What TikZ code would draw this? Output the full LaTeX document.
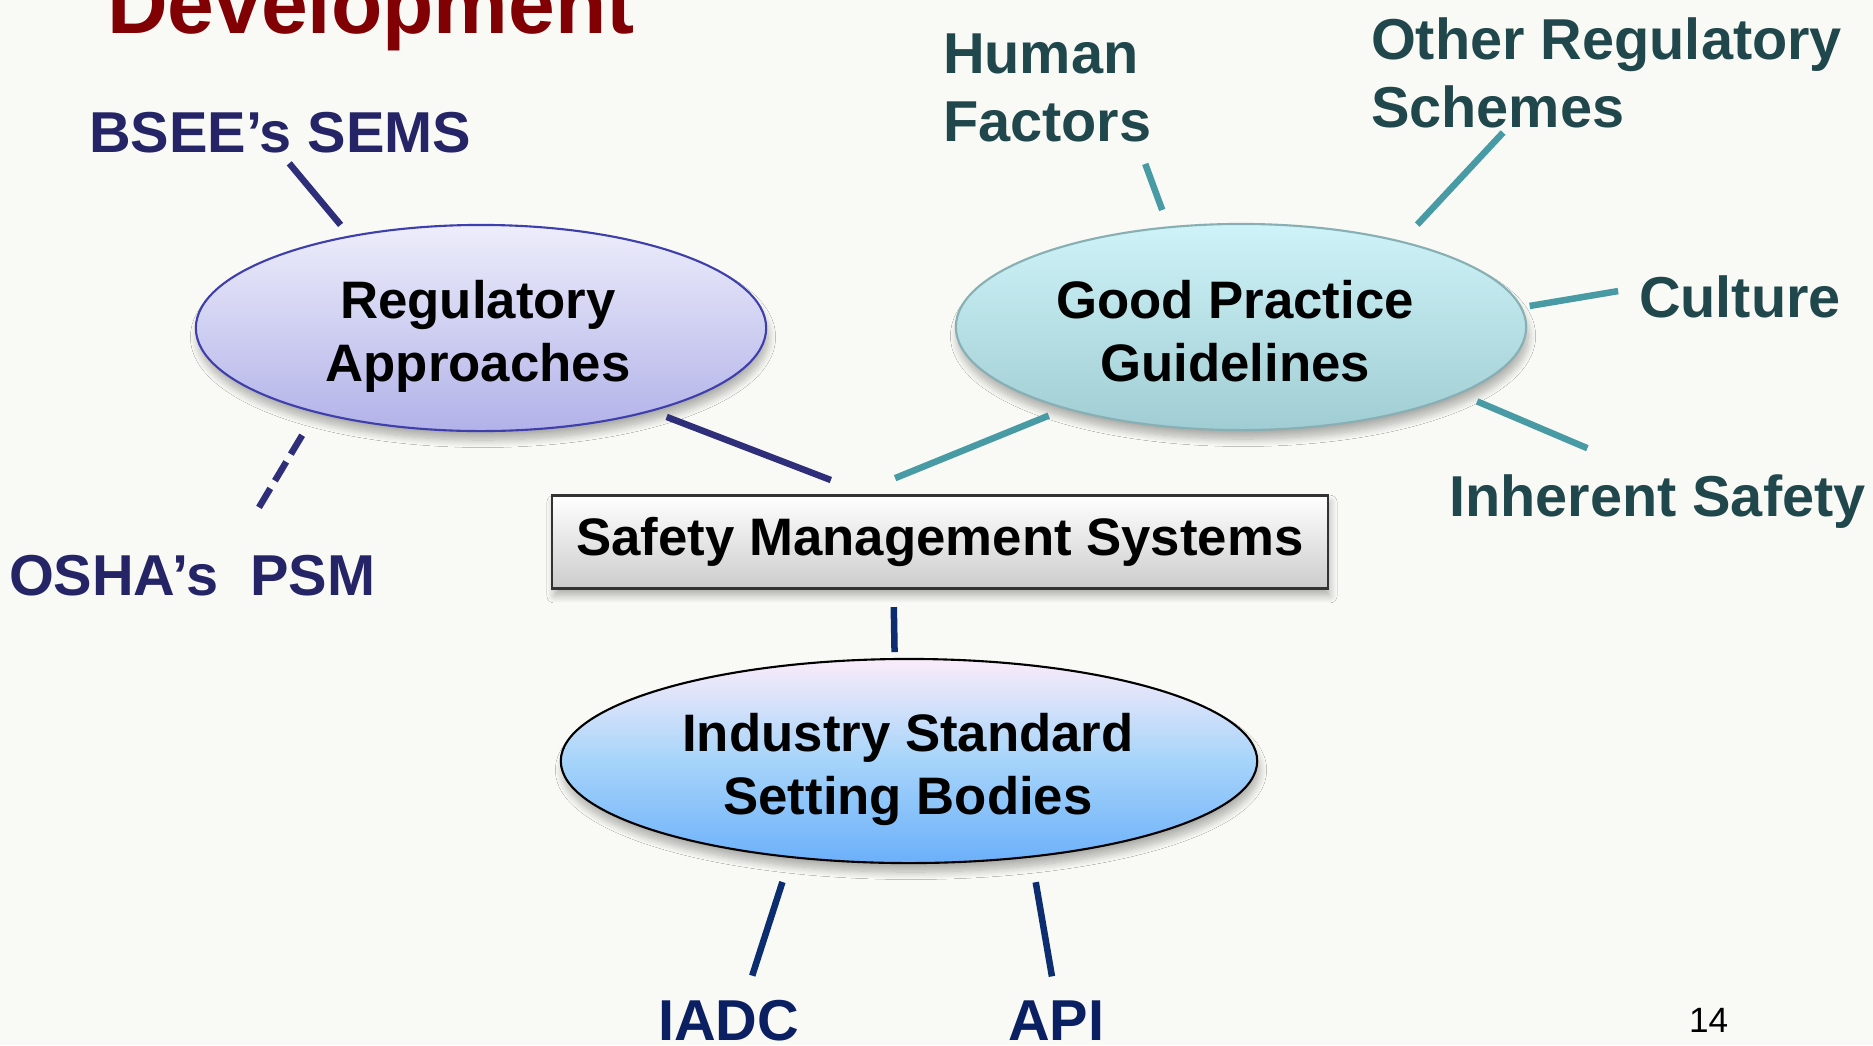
\documentclass[tikz,border=0pt]{standalone}
\usepackage{fontspec}
\setmainfont{Liberation Sans}
\usetikzlibrary{shapes.geometric,shadows.blur}

\begin{document}
\begin{tikzpicture}[x=0.01cm, y=-0.01cm,
    every node/.style={font=\bfseries, inner sep=0pt, outer sep=0pt},
    bigtxt/.style={font=\fontsize{15}{17.9}\selectfont\bfseries, align=center, anchor=north},
    lbl/.style={font=\fontsize{16.4}{19.35}\selectfont\bfseries},
    oval/.style={ellipse, minimum width=5.7cm, minimum height=2.06cm, line width=0.6pt,
      blur shadow={shadow xshift=0.2mm, shadow yshift=-0.9mm, shadow opacity=30, shadow blur steps=10}},
    spoke/.style={line width=0.065cm}]
  \definecolor{bg}{RGB}{249,249,245}
  \definecolor{titlered}{RGB}{128,0,4}
  \definecolor{regtxt}{RGB}{36,36,102}
  \definecolor{regline}{RGB}{46,46,122}
  \definecolor{regedge}{RGB}{62,62,172}
  \definecolor{regtop}{RGB}{237,237,251}
  \definecolor{regbot}{RGB}{178,178,233}
  \definecolor{gptxt}{RGB}{32,72,76}
  \definecolor{gpline}{RGB}{72,155,164}
  \definecolor{gpedge}{RGB}{135,175,180}
  \definecolor{gptop}{RGB}{206,243,248}
  \definecolor{gpbot}{RGB}{160,205,211}
  \definecolor{isbtxt}{RGB}{10,32,98}
  \definecolor{isbline}{RGB}{12,45,112}
  \definecolor{isbtop}{RGB}{250,236,250}
  \definecolor{isbmid}{RGB}{166,212,250}
  \definecolor{isbbot}{RGB}{108,176,250}
  \definecolor{smsbot}{RGB}{204,204,204}
  \path[use as bounding box, fill=bg] (0,0) rectangle (1873,1045);

  \node[font=\fontsize{23.9}{28}\selectfont\bfseries, text=titlered, anchor=base west] (title) at (107,33) {Development};

  \node[oval, draw=regedge, top color=regtop, bottom color=regbot] (reg) at (481,328) {};
  \node[oval, draw=gpedge, top color=gptop, bottom color=gpbot] (gpg) at (1241,327) {};
  \node[oval, minimum width=6.96cm, minimum height=2.04cm, draw=black,
    top color=isbtop, bottom color=isbbot, middle color=isbmid] (isb) at (909,761) {};
  \node[rectangle, minimum width=7.75cm, minimum height=0.93cm, draw=black!80, line width=0.6pt,
    top color=white, bottom color=smsbot, font=\fontsize{15}{17.9}\selectfont\bfseries,
    blur shadow={shadow xshift=0.2mm, shadow yshift=-0.7mm, shadow opacity=30, shadow blur steps=8}]
    (sms) at (940,542) {Safety Management Systems};

  \node[bigtxt] (reg-t) at (478,280) {Regulatory\\Approaches};
  \node[bigtxt] (gpg-t) at (1235,280) {Good Practice\\Guidelines};
  \node[bigtxt] (isb-t) at (908,713) {Industry Standard\\Setting Bodies};

  \node[lbl, text=regtxt, anchor=base west] (bsee) at (89,152) {BSEE’s SEMS};
  \node[lbl, text=regtxt, anchor=base west] (osha) at (9,595) {OSHA’s\ \ PSM};
  \node[lbl, text=gptxt, align=left, anchor=north west] (hf) at (943,34) {Human\\Factors};
  \node[lbl, text=gptxt, align=left, anchor=north west] (ors) at (1371,18) {Other Regulatory\\Schemes};
  \node[lbl, text=gptxt, anchor=base west] (cul) at (1639,317) {Culture};
  \node[lbl, text=gptxt, anchor=base west] (inh) at (1449,516) {Inherent Safety};
  \node[lbl, text=isbtxt, anchor=base west] (iadc) at (658,1040) {IADC};
  \node[lbl, text=isbtxt, anchor=base west] (api) at (1008,1040) {API};
  \node[font=\fontsize{10}{12}\selectfont, anchor=base west] (pg) at (1689,1032) {14};

  \draw[spoke, regline, shorten <=0.14cm, shorten >=0.15cm] (bsee.south) -- (reg.145.4);
  \draw[spoke, regline, dash pattern=on 0.22cm off 0.09cm, shorten <=0.27cm, shorten >=0.5cm] (reg.207.7) -- (osha.28.3);
  \draw[spoke, regline, shorten <=0.17cm, shorten >=0.43cm] (reg.334.9) -- (sms.146.6);
  \draw[spoke, gpline, shorten <=0.19cm, shorten >=0.46cm] (gpg.205.4) -- (sms.152.6);
  \draw[spoke, gpline, shorten <=0.23cm, shorten >=0.185cm] (hf.-31.3) -- (gpg.126.3);
  \draw[spoke, gpline, shorten <=0.056cm, shorten >=0.234cm] (ors.209.7) -- (gpg.28.1);
  \draw[spoke, gpline, shorten <=0.212cm, shorten >=0.088cm] (cul.175) -- (gpg.4.24);
  \draw[spoke, gpline, shorten <=0.2cm, shorten >=0.665cm] (gpg.343.7) -- (inh.108.3);
  \draw[spoke, isbline, shorten <=0.185cm, shorten >=0.07cm] (sms.225) -- (isb.98.9);
  \draw[spoke, isbline, shorten <=0.263cm, shorten >=0.253cm] (isb.219.5) -- (iadc.52);
  \draw[spoke, isbline, shorten <=0.26cm, shorten >=0.243cm] (isb.322.2) -- (api.north);
\end{tikzpicture}
\end{document}
